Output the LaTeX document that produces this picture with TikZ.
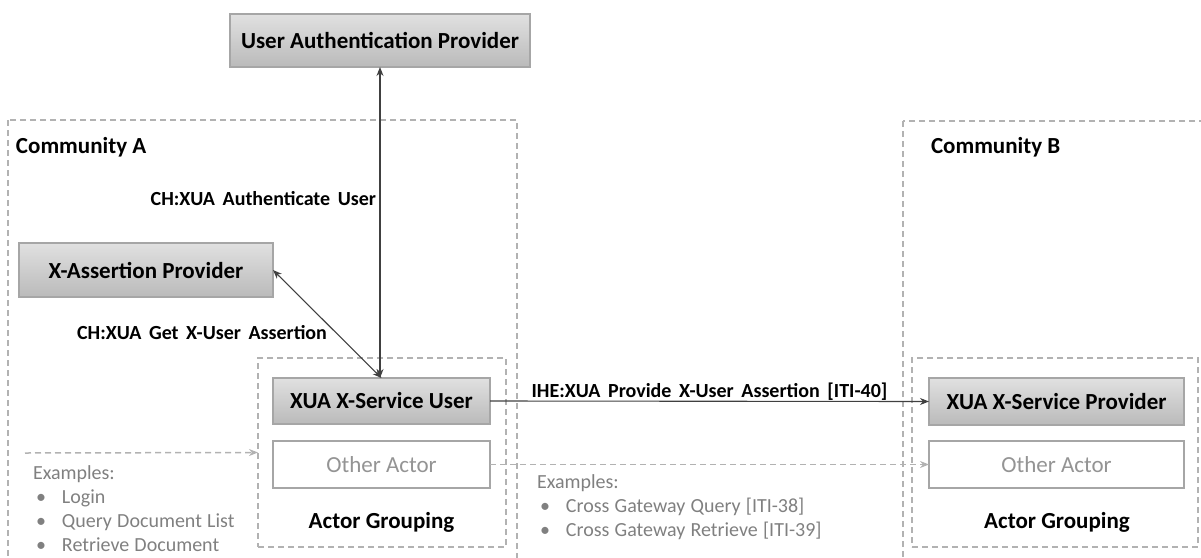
\documentclass[tikz,border=0pt]{standalone}
\usepackage{fontspec}
\setmainfont{Carlito}
\usetikzlibrary{calc,positioning,arrows.meta}
\newcommand{\shadeTop}{black!12}
\newcommand{\shadeBot}{black!27}
\newcommand{\edgeGray}{black!35}
\newcommand{\dashGray}{black!30}
\newcommand{\exGray}{black!50}
\newcommand{\otherGray}{black!42}
\newcommand{\arrowGray}{black!75}
\newcommand{\txnSpacing}{\spaceskip=7.6pt plus 2pt minus 1pt\relax}
\newcommand{\exSpacing}{\spaceskip=5.2pt plus 1pt minus 1pt\relax}

\begin{document}
\begin{tikzpicture}[x=1pt,y=-1pt,inner sep=0pt,outer sep=0pt,
	>={Stealth[length=9pt,width=7pt]},
	actor/.style={draw=\edgeGray,line width=1.2pt,top color=\shadeTop,bottom color=\shadeBot,font=\fontsize{23}{28}\selectfont\bfseries},
	other/.style={draw=\edgeGray,line width=1.2pt,fill=white,text=\otherGray,font=\fontsize{23}{28}\selectfont},
	group/.style={draw=\dashGray,line width=1.2pt,dash pattern=on 6pt off 4pt},
	heading/.style={font=\fontsize{23}{28}\selectfont\bfseries},
	txn/.style={font=\fontsize{20}{24}\selectfont\bfseries\txnSpacing},
	examples/.style={align=left,text=\exGray,font=\fontsize{20}{24}\selectfont\exSpacing},
	msg/.style={draw=\arrowGray,line width=1.1pt},
	side/.style={draw=\dashGray,line width=1.5pt,dash pattern=on 6pt off 4pt}]
	\useasboundingbox (0,0) rectangle (1201,557);
	% communities
	\draw[group] (8,120) rectangle (517,620);
	\draw[group] (903,121) rectangle (1240,620);
	\node[heading,anchor=west] (comA) at (16,147) {Community A};
	\node[heading,anchor=west] (comB) at (931,147) {Community B};
	
	% actor groupings
	\node[group,minimum width=248pt,minimum height=189pt] (grpA) at (382,452.5) {};
	\node[group,minimum width=286pt,minimum height=189pt] (grpB) at (1055,452.5) {};
	
	\node[actor,minimum width=300pt,minimum height=53pt] (uap) at (380,40.5) {User Authentication Provider};
	\node[actor,minimum width=254pt,minimum height=54pt] (xap) at (146,270) {X-Assertion Provider};
	\node[actor,minimum width=217pt,minimum height=46pt] (xsu) at (381.5,401) {XUA X-Service User};
	\node[other,minimum width=217pt,minimum height=47pt,below=17pt of xsu] (othA) {Other Actor};
	\node[heading] (lblA) at (381.5,522) {Actor Grouping};
	\node[actor,minimum width=255pt,minimum height=47pt] (xsp) at (1056.5,401.5) {XUA X-Service Provider};
	\node[other,minimum width=255pt,minimum height=47pt,below=16pt of xsp] (othB) {Other Actor};
	\node[heading] (lblB) at (1057,522) {Actor Grouping};
	
	% transactions
	\draw[msg,<->] (uap.south) -- (uap.south |- xsu.north);
	\node[txn,anchor=east] (authLbl) at (376,199) {CH:XUA Authenticate User};
	\draw[msg,<->] (xap.east) -- (xsu.north);
	\node[txn,anchor=east] (getLbl) at (327,333) {CH:XUA Get X-User Assertion};
	\draw[msg,->] (xsu.east) -- (xsp.west) node[txn,midway,above=1pt] (provLbl) {IHE:XUA Provide X-User Assertion [ITI-40]};
	
	% grouped actors
	\coordinate (exA) at (25,453);
	\draw[side,->] (exA) -- (grpA.west);
	\draw[side,->] (othA.east) -- (othB.west);
	\node[examples,anchor=north west] (exTxtA) at (33,466) {Examples:\\
		\hspace{3pt}\makebox[26pt][l]{\textbullet}Login\\
		\hspace{3pt}\makebox[26pt][l]{\textbullet}Query Document List\\
		\hspace{3pt}\makebox[26pt][l]{\textbullet}Retrieve Document};
	\node[examples,anchor=north west] (exTxtB) at (537,475) {Examples:\\
		\hspace{3pt}\makebox[26pt][l]{\textbullet}Cross Gateway Query [ITI-38]\\
		\hspace{3pt}\makebox[26pt][l]{\textbullet}Cross Gateway Retrieve [ITI-39]};
\end{tikzpicture}
\end{document}
